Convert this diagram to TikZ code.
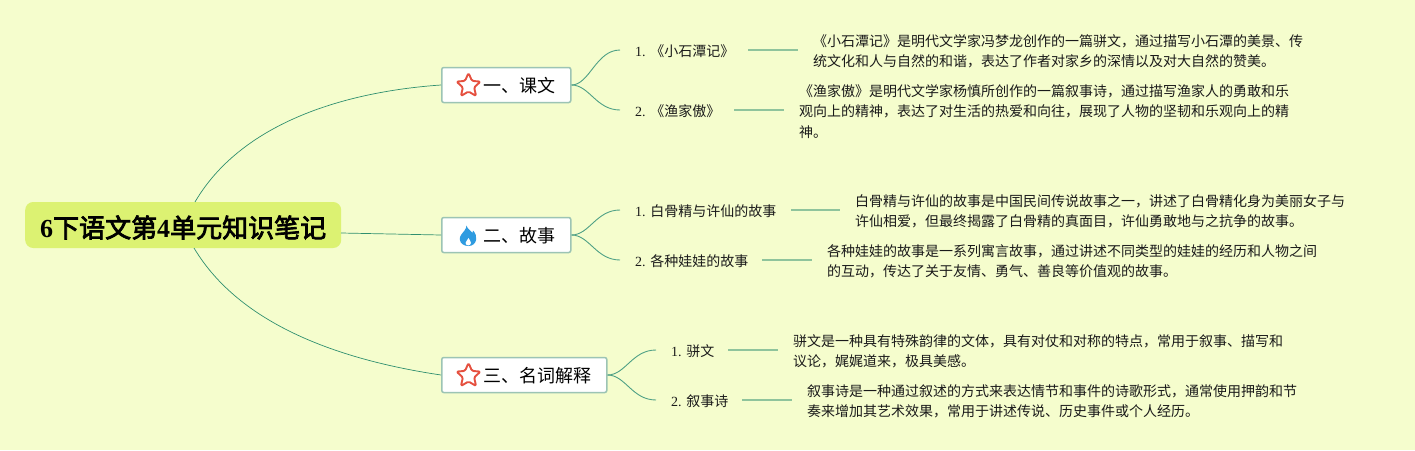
\documentclass[tikz,border=0pt]{standalone}
\usepackage{fontspec}
\usetikzlibrary{calc}
\setmainfont{Liberation Serif}
\newfontfamily\cjk{Noto Sans CJK SC}
\newfontfamily\cjkroot[FakeBold=3]{Noto Sans CJK SC}
\newcommand{\leaftext}[1]{\mbox{\frenchspacing\raisebox{-3.3pt}[0pt][0pt]{#1}}}
\definecolor{bgc}{HTML}{F5FDCD}
\definecolor{rootc}{HTML}{DCF272}
\definecolor{linkc}{HTML}{2F8F6F}
\definecolor{stubc}{HTML}{8FC49C}
\definecolor{boxc}{HTML}{9CC4B4}
\definecolor{starc}{HTML}{E5503F}
\definecolor{flamec}{HTML}{2E9BE0}
\definecolor{txt}{HTML}{1A1A1A}
\tikzset{
  x=1pt,y=-1pt,
  rootnode/.style={fill=rootc,rounded corners=8pt,minimum width=316pt,minimum height=46pt,inner sep=0pt,anchor=west},
  roottext/.style={inner sep=0pt,font=\fontsize{26}{30}\selectfont,anchor=west},
  branch/.style={draw=boxc,line width=1.5pt,fill=white,rounded corners=2pt,minimum height=35pt,inner sep=0pt,anchor=west},
  blabel/.style={anchor=west,inner sep=0pt,font=\cjk\fontsize{18}{22}\selectfont,text=black},
  leaf/.style={anchor=west,inner xsep=15pt,inner ysep=2pt,text height=10pt,text depth=3pt,align=left,font=\fontsize{14}{18}\selectfont,text=txt},
  desc/.style={anchor=west,inner xsep=15pt,inner ysep=0pt,align=left,font=\cjk\fontsize{14}{20.3}\selectfont,text=txt},
  link/.style={draw=linkc,line width=0.7pt},
  twig/.style={draw=linkc!85!white,line width=0.9pt},
  stub/.style={draw=stubc,line width=1.3pt},
  staricon/.style={draw=starc,line width=1.9pt,fill=white,rounded corners=1.4pt,line join=round},
}
\begin{document}
\begin{tikzpicture}
\useasboundingbox[fill=bgc] (0,0) rectangle (1415,450);
% root
\node[rootnode] (root) at (25,225) {};
\node[roottext] (roott) at (40,227.5) {{\bfseries 6}{\cjkroot 下语文第}{\bfseries 4}{\cjkroot 单元知识笔记}};
\coordinate (rt) at (195,202);
\coordinate (rb) at (194,248);
\coordinate (rr) at (341,233);
% branches
\node[branch,minimum width=129pt] (b1) at (441,85) {};
\node[branch,minimum width=129pt] (b2) at (441,235) {};
\node[branch,minimum width=165pt] (b3) at (441,375) {};
\node[blabel] (t1) at (483,86) {一、课文};
\node[blabel] (t2) at (483,236) {二、故事};
\node[blabel] (t3) at (483,376) {三、名词解释};
% stars
\foreach \cx/\cy in {468.5/85.5,468.5/375.5}{
 \draw[staricon] (\cx+0,\cy-12.5)
  -- (\cx+3.5,\cy-4.6) -- (\cx+12,\cy-3.9) -- (\cx+5.6,\cy+1.9)
  -- (\cx+7.6,\cy+10.5) -- (\cx+0,\cy+6) -- (\cx-7.6,\cy+10.5)
  -- (\cx-5.6,\cy+1.9) -- (\cx-12,\cy-3.9) -- (\cx-3.5,\cy-4.6) -- cycle;
}
% flame
\fill[flamec] (466.5,225.5) .. controls (467.5,229.5) and (471.5,231) .. (472.5,233)
  .. controls (473,232) and (473.2,231.2) .. (473,230.5)
  .. controls (475.5,233) and (476.8,236.5) .. (476.2,239.5)
  .. controls (475.5,243.5) and (472.5,246) .. (468.5,246)
  .. controls (464,246) and (460.2,243.5) .. (459.8,239.5)
  .. controls (459.4,235.5) and (462.5,233.5) .. (464.5,230.5)
  .. controls (465.6,228.8) and (466.5,227.5) .. (466.5,225.5) -- cycle;
\fill[white] (468.5,238) .. controls (469,240) and (471.2,241) .. (471,243)
  .. controls (470.8,244.6) and (469.6,245.4) .. (468.3,245.4)
  .. controls (466.8,245.4) and (465.6,244.4) .. (465.6,243)
  .. controls (465.6,241) and (468,240) .. (468.5,238) -- cycle;
% leaves
\node[leaf,text width=98pt] (c1) at (620,50) {\leaftext{1. {\cjk 《小石潭记》}}};
\node[leaf,text width=84pt] (c2) at (620,110) {\leaftext{2. {\cjk 《渔家傲》}}};
\node[leaf,text width=141pt] (c3) at (620,210) {\leaftext{1. {\cjk 白骨精与许仙的故事}}};
\node[leaf,text width=112pt] (c4) at (620,260) {\leaftext{2. {\cjk 各种娃娃的故事}}};
\node[leaf,text width=42pt] (c5) at (656,350) {\leaftext{1. {\cjk 骈文}}};
\node[leaf,text width=56pt] (c6) at (656,400) {\leaftext{2. {\cjk 叙事诗}}};
% descriptions
\node[desc] (d1) at (798,51.5) {《小石潭记》是明代文学家冯梦龙创作的一篇骈文，通过描写小石潭的美景、传\\统文化和人与自然的和谐，表达了作者对家乡的深情以及对大自然的赞美。};
\node[desc] (d2) at (784,111.5) {《渔家傲》是明代文学家杨慎所创作的一篇叙事诗，通过描写渔家人的勇敢和乐\\观向上的精神，表达了对生活的热爱和向往，展现了人物的坚韧和乐观向上的精\\神。};
\node[desc] (d3) at (840,211.5) {白骨精与许仙的故事是中国民间传说故事之一，讲述了白骨精化身为美丽女子与\\许仙相爱，但最终揭露了白骨精的真面目，许仙勇敢地与之抗争的故事。};
\node[desc] (d4) at (812,261.5) {各种娃娃的故事是一系列寓言故事，通过讲述不同类型的娃娃的经历和人物之间\\的互动，传达了关于友情、勇气、善良等价值观的故事。};
\node[desc] (d5) at (778,351.5) {骈文是一种具有特殊韵律的文体，具有对仗和对称的特点，常用于叙事、描写和\\议论，娓娓道来，极具美感。};
\node[desc] (d6) at (792,401.5) {叙事诗是一种通过叙述的方式来表达情节和事件的诗歌形式，通常使用押韵和节\\奏来增加其艺术效果，常用于讲述传说、历史事件或个人经历。};
% root links
\draw[link] (rt) .. controls (240,125) and (340,92) .. (b1.west);
\draw[link] (rr) -- (b2.west);
\draw[link] (rb) .. controls (240,325) and (340,360) .. (b3.west);
% twigs
\foreach \b/\u/\l in {b1/c1/c2,b2/c3/c4,b3/c5/c6}{
 \draw[twig] (\b.east) .. controls +(18,0) and ($(\u.west)+(-24,0)$) .. (\u.west);
 \draw[twig] (\b.east) .. controls +(18,0) and ($(\l.west)+(-24,0)$) .. (\l.west);
}
\foreach \a/\z in {c1/d1,c2/d2,c3/d3,c4/d4,c5/d5,c6/d6}{
 \draw[stub] (\a.east) -- (\a.east -| \z.west);
}
\end{tikzpicture}
\end{document}
